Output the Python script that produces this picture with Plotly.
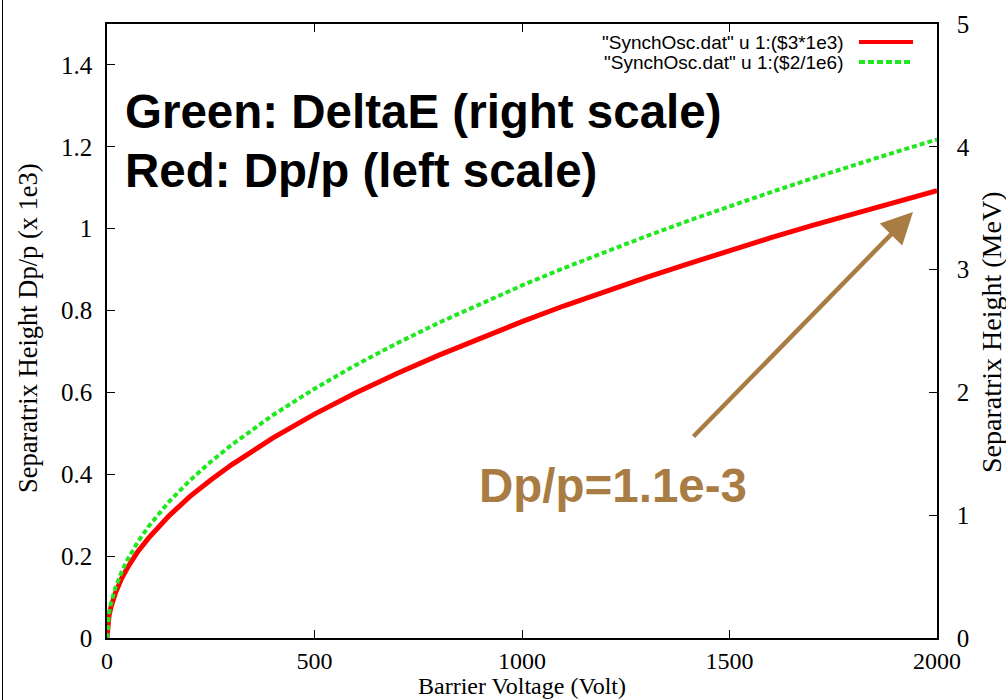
import plotly.graph_objects as go

# Data
voltage = [0, 2, 5, 10, 20, 35, 50, 75, 100, 150, 200, 250, 300, 400, 500, 600, 700,
           800, 900, 1000, 1100, 1200, 1300, 1400, 1500, 1600, 1700, 1800, 1900, 2000]
dpp_1e3 = [0, 0.035, 0.055, 0.077, 0.109, 0.145, 0.173, 0.212, 0.244, 0.299, 0.346, 0.386,
           0.423, 0.489, 0.547, 0.599, 0.647, 0.691, 0.733, 0.773, 0.811, 0.847, 0.881,
           0.914, 0.947, 0.978, 1.008, 1.037, 1.065, 1.093]
deltaE_MeV = [0, 0.128, 0.203, 0.287, 0.406, 0.537, 0.642, 0.786, 0.908, 1.112, 1.284, 1.435,
              1.572, 1.816, 2.03, 2.224, 2.402, 2.568, 2.723, 2.871, 3.011, 3.145, 3.273,
              3.397, 3.516, 3.631, 3.743, 3.852, 3.957, 4.06]
x_ticks = [0, 500, 1000, 1500, 2000]
y_ticks = [0, 0.2, 0.4, 0.6, 0.8, 1.0, 1.2, 1.4]
y_tick_text = ["0", "0.2", "0.4", "0.6", "0.8", "1", "1.2", "1.4"]
y2_ticks = [0, 1, 2, 3, 4, 5]
legend_labels = ['"SynchOsc.dat" u 1:($3*1e3)', '"SynchOsc.dat" u 1:($2/1e6)']

RED = "#ff0000"
GREEN = "#1fe81f"
BROWN = "#a97c44"
SERIF = "Liberation Serif, Times New Roman, serif"
SANS = "Liberation Sans, Arial, Helvetica, sans-serif"

W, H = 1006, 700
L, R, T, B = 107, 937, 24, 638


def px(xp):
    return (xp - L) / (R - L)


def py(yp):
    return (B - yp) / (B - T)


fig = go.Figure()
fig.add_trace(go.Scatter(x=voltage, y=dpp_1e3, mode="lines", name=legend_labels[0],
                         line=dict(color=RED, width=5), yaxis="y", showlegend=False))
fig.add_trace(go.Scatter(x=voltage, y=deltaE_MeV, mode="lines", name=legend_labels[1],
                         line=dict(color=GREEN, width=4, dash="5px,3px"), yaxis="y2",
                         showlegend=False))

axis_common = dict(showgrid=False, zeroline=False, showline=True, linecolor="black",
                   linewidth=1.5, ticks="inside", ticklen=8, tickwidth=1.2, tickcolor="black",
                   tickfont=dict(family=SERIF, size=25, color="black"))

fig.update_layout(
    width=W, height=H,
    margin=dict(l=L, r=W - R, t=T, b=H - B, pad=0),
    paper_bgcolor="white", plot_bgcolor="white",
    xaxis=dict(range=[0, 2000], tickvals=x_ticks, mirror="ticks", ticklabelstandoff=0,
               **{**axis_common, "tickfont": dict(family=SERIF, size=24, color="black")}),
    yaxis=dict(range=[0, 1.5], tickvals=y_ticks, ticktext=y_tick_text, mirror=False,
               ticklabelstandoff=8, **axis_common),
    yaxis2=dict(range=[0, 5], tickvals=y2_ticks, overlaying="y", side="right",
                ticklabelstandoff=13, **axis_common),
    showlegend=False,
)

annotations = [
    dict(text="Barrier Voltage (Volt)", x=px(522), y=py(686), xref="paper", yref="paper",
         showarrow=False, font=dict(family=SERIF, size=24, color="black"),
         xanchor="center", yanchor="middle"),
    dict(text="Separatrix Height Dp/p (x 1e3)", x=px(28), y=py(328), xref="paper",
         yref="paper", showarrow=False, textangle=-90,
         font=dict(family=SERIF, size=26.5, color="black"), xanchor="center", yanchor="middle"),
    dict(text="Separatrix Height (MeV)", x=px(991), y=py(333), xref="paper", yref="paper",
         showarrow=False, textangle=-90, font=dict(family=SERIF, size=28, color="black"),
         xanchor="center", yanchor="middle"),
    dict(text="<b>Green: DeltaE (right scale)</b>", x=px(123), y=py(112), xref="paper",
         yref="paper", showarrow=False, font=dict(family=SANS, size=47.5, color="black"),
         xanchor="left", yanchor="middle"),
    dict(text="<b>Red: Dp/p (left scale)</b>", x=px(123), y=py(170), xref="paper",
         yref="paper", showarrow=False, font=dict(family=SANS, size=47.5, color="black"),
         xanchor="left", yanchor="middle"),
    dict(text="<b>Dp/p=1.1e-3</b>", x=px(613), y=py(485), xref="paper", yref="paper",
         showarrow=False, font=dict(family=SANS, size=47.5, color=BROWN),
         xanchor="center", yanchor="middle"),
    dict(text="", x=px(913), y=py(212), xref="paper", yref="paper", showarrow=True,
         ax=692 - 913, ay=438 - 212, axref="pixel", ayref="pixel", arrowcolor=BROWN,
         arrowwidth=4.5, arrowhead=2, arrowsize=1.4, standoff=0),
    dict(text=legend_labels[0], x=px(846), y=py(42), xref="paper", yref="paper",
         showarrow=False, font=dict(family=SANS, size=19, color="black"),
         xanchor="right", yanchor="middle"),
    dict(text=legend_labels[1], x=px(846), y=py(62), xref="paper", yref="paper",
         showarrow=False, font=dict(family=SANS, size=19, color="black"),
         xanchor="right", yanchor="middle"),
]
fig.update_layout(annotations=annotations)

shapes = [
    dict(type="line", xref="paper", yref="paper", x0=px(859), x1=px(913), y0=py(42),
         y1=py(42), line=dict(color=RED, width=4)),
    dict(type="line", xref="paper", yref="paper", x0=px(859), x1=px(913), y0=py(62),
         y1=py(62), line=dict(color=GREEN, width=4, dash="6px,3px")),
    dict(type="line", xref="paper", yref="paper", x0=px(2.5), x1=px(2.5), y0=py(700),
         y1=py(0), line=dict(color="black", width=1)),
]
fig.update_layout(shapes=shapes)

fig.write_html("out.html")
